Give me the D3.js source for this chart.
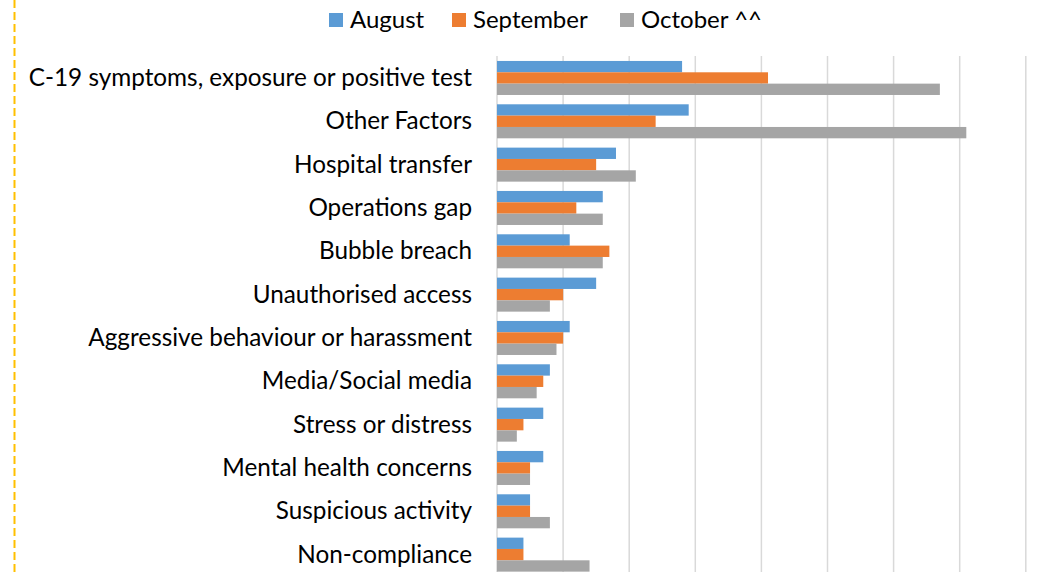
<!DOCTYPE html>
<html>
<head>
<meta charset="utf-8">
<script src="https://cdn.jsdelivr.net/npm/d3@7"></script>
<style>
  html, body { margin: 0; padding: 0; background: #fff; }
  svg { display: block; }
  text { font-family: Lato, "Open Sans", sans-serif; fill: #000; }
</style>
</head>
<body>
<svg id="chart" width="1049" height="572"></svg>
<script>
const categories = [
  "C-19 symptoms, exposure or positive test",
  "Other Factors",
  "Hospital transfer ",
  "Operations gap",
  "Bubble breach",
  "Unauthorised access",
  "Aggressive behaviour or harassment",
  "Media/Social media",
  "Stress or distress",
  "Mental health concerns",
  "Suspicious activity",
  "Non-compliance"
];
const seriesNames = ["August", "September", "October ^^"];
const august    = [28, 29, 18, 16, 11, 15, 11, 8, 7, 7, 5, 4];
const september = [41, 24, 15, 12, 17, 10, 10, 7, 4, 5, 5, 4];
const october   = [67, 71, 21, 16, 16, 8, 9, 6, 3, 5, 8, 14];
const gridTicks = [0, 10, 20, 30, 40, 50, 60, 70, 80];
const colors = ["#5B9BD5", "#ED7D31", "#A5A5A5"];

const values = [august, september, october];
const svg = d3.select("#chart");

// left dashed border
svg.append("line")
  .attr("x1", 14.5).attr("x2", 14.5).attr("y1", 0).attr("y2", 572)
  .attr("stroke", "#FFC000").attr("stroke-width", 2)
  .attr("stroke-dasharray", "8,4");

const x = d3.scaleLinear().domain([0, 80]).range([497, 1025.8]);
const y = d3.scaleBand().domain(categories).range([56.3, 576.3])
  .paddingInner(0.215).paddingOuter(0.1075);
const ySub = d3.scaleBand().domain(seriesNames).range([0, y.bandwidth()]);

// gridlines
svg.append("g").selectAll("line").data(gridTicks).join("line")
  .attr("x1", d => x(d)).attr("x2", d => x(d))
  .attr("y1", 56).attr("y2", 572)
  .attr("stroke", "#D9D9D9").attr("stroke-width", 1.5);

// bars
const groups = svg.append("g").selectAll("g").data(categories).join("g")
  .attr("transform", d => `translate(0,${y(d)})`);
groups.selectAll("rect")
  .data((c, i) => seriesNames.map((s, j) => ({ s, j, v: values[j][i] })))
  .join("rect")
  .attr("x", x(0))
  .attr("y", d => ySub(d.s))
  .attr("width", d => x(d.v) - x(0))
  .attr("height", ySub.bandwidth())
  .attr("fill", d => colors[d.j]);

// category labels
svg.append("g").selectAll("text").data(categories).join("text")
  .attr("x", 472)
  .attr("y", d => y(d) + y.bandwidth() / 2 + 2)
  .attr("text-anchor", "end")
  .attr("dominant-baseline", "middle")
  .attr("font-size", 24.3)
  .text(d => d);

// legend
const legendX = [329, 452, 620];
const lg = svg.append("g").selectAll("g").data(seriesNames).join("g")
  .attr("transform", (d, i) => `translate(${legendX[i]},0)`);
lg.append("rect").attr("x", 0).attr("y", 13).attr("width", 14).attr("height", 14)
  .attr("fill", (d, i) => colors[i]);
lg.append("text").attr("x", 21).attr("y", 22)
  .attr("dominant-baseline", "middle")
  .attr("font-size", 24)
  .text(d => d);
</script>
</body>
</html>
